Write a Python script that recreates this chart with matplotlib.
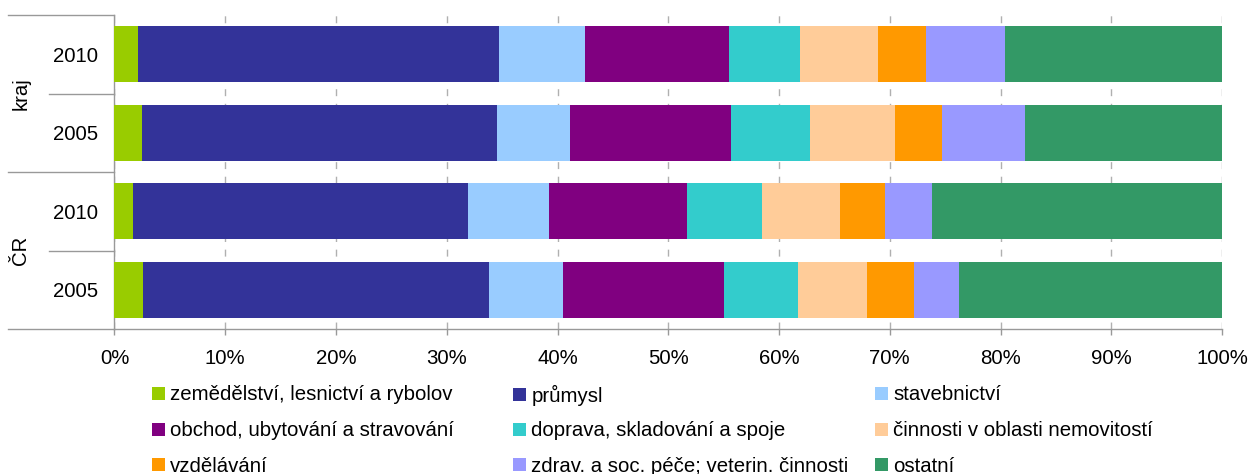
import matplotlib
matplotlib.use("Agg")
import matplotlib.pyplot as plt
from matplotlib.patches import Patch
from matplotlib.ticker import FuncFormatter
import numpy as np

plt.rcParams['font.family'] = ['Liberation Sans', 'DejaVu Sans']

rows = ["kraj 2010", "kraj 2005", "ČR 2010", "ČR 2005"]
year_labels = ["2010", "2005", "2010", "2005"]
groups = ["kraj", "ČR"]

categories = [
    "zemědělství, lesnictví a rybolov",
    "průmysl",
    "stavebnictví",
    "obchod, ubytování a stravování",
    "doprava, skladování a spoje",
    "činnosti v oblasti nemovitostí",
    "vzdělávání",
    "zdrav. a soc. péče; veterin. činnosti",
    "ostatní",
]
colors = ["#99CC00", "#333399", "#99CCFF", "#800080", "#33CCCC",
          "#FFCC99", "#FF9900", "#9999FF", "#339966"]

# shares (%) per category, order of rows: kraj 2010, kraj 2005, ČR 2010, ČR 2005
zemedelstvi = [2.1, 2.5, 1.7, 2.6]
prumysl = [32.6, 32.0, 30.3, 31.3]
stavebnictvi = [7.7, 6.6, 7.3, 6.7]
obchod = [13.0, 14.5, 12.5, 14.5]
doprava = [6.4, 7.1, 6.8, 6.7]
nemovitosti = [7.1, 7.7, 7.0, 6.3]
vzdelavani = [4.3, 4.2, 4.1, 4.2]
zdravotnictvi = [7.1, 7.5, 4.3, 4.1]
ostatni = [19.6, 17.8, 26.2, 23.8]

series = [zemedelstvi, prumysl, stavebnictvi, obchod, doprava,
          nemovitosti, vzdelavani, zdravotnictvi, ostatni]

FS = 14.7

fig = plt.figure(figsize=(12.48, 4.74), dpi=100)
ax = fig.add_axes([114.5 / 1248, 1 - 329 / 474, (1222 - 114.5) / 1248, (329 - 15) / 474])

data = np.array(series, dtype=float)
totals = data.sum(axis=0)
pct = data / totals * 100
y = np.arange(len(rows))
left = np.zeros(len(rows))
for vals, col, name in zip(pct, colors, categories):
    ax.barh(y, vals, left=left, height=0.715, color=col, label=name, zorder=3)
    left += vals

ax.set_xlim(0, 100)
ax.set_ylim(3.5, -0.5)
ax.set_xticks(np.arange(0, 101, 10))
ax.xaxis.set_major_formatter(FuncFormatter(lambda v, p: f"{int(round(v))}%"))
ax.set_yticks(y)
ax.set_yticklabels(year_labels)
ax.tick_params(axis='y', length=0, pad=12, labelsize=FS)
ax.tick_params(axis='x', length=4.5, width=1, color="#999999", pad=10, labelsize=FS)

ax.grid(axis='x', color="#b0b0b0", linestyle=(0, (5, 5.5)), linewidth=1, zorder=0)
for s in ["top", "right"]:
    ax.spines[s].set_visible(False)
for s in ["left", "bottom"]:
    ax.spines[s].set_color("#999999")
    ax.spines[s].set_linewidth(1)

# group separators on the left
trans = matplotlib.transforms.blended_transform_factory(ax.transAxes, ax.transData)
for yb in [-0.5, 1.5, 3.5]:
    ax.plot([-0.096, 0], [yb, yb], color="#999999", lw=1, transform=trans, clip_on=False)
for yb in [0.5, 2.5]:
    ax.plot([-0.059, 0], [yb, yb], color="#999999", lw=1, transform=trans, clip_on=False)
gx = (21 - 114.5) / (1222 - 114.5)
for gi, g in enumerate(groups):
    ax.text(gx, 0.5 + 2 * gi, g, rotation=90, ha='center', va='center',
            fontsize=FS, transform=trans)

# legend: 3x3 grid, entries placed row by row
handles = [Patch(facecolor=c, edgecolor='none') for c in colors]
col_x = [152, 513, 875]
row_y = [395, 431, 466]
for i, (h, name) in enumerate(zip(handles, categories)):
    r, c = divmod(i, 3)
    fig.legend([h], [name], loc='center left',
               bbox_to_anchor=(col_x[c] / 1248, 1 - row_y[r] / 474),
               frameon=False, fontsize=FS, handlelength=0.65, handleheight=0.65,
               handletextpad=0.25, borderpad=0, borderaxespad=0)

fig.savefig("out.png", dpi=100)
